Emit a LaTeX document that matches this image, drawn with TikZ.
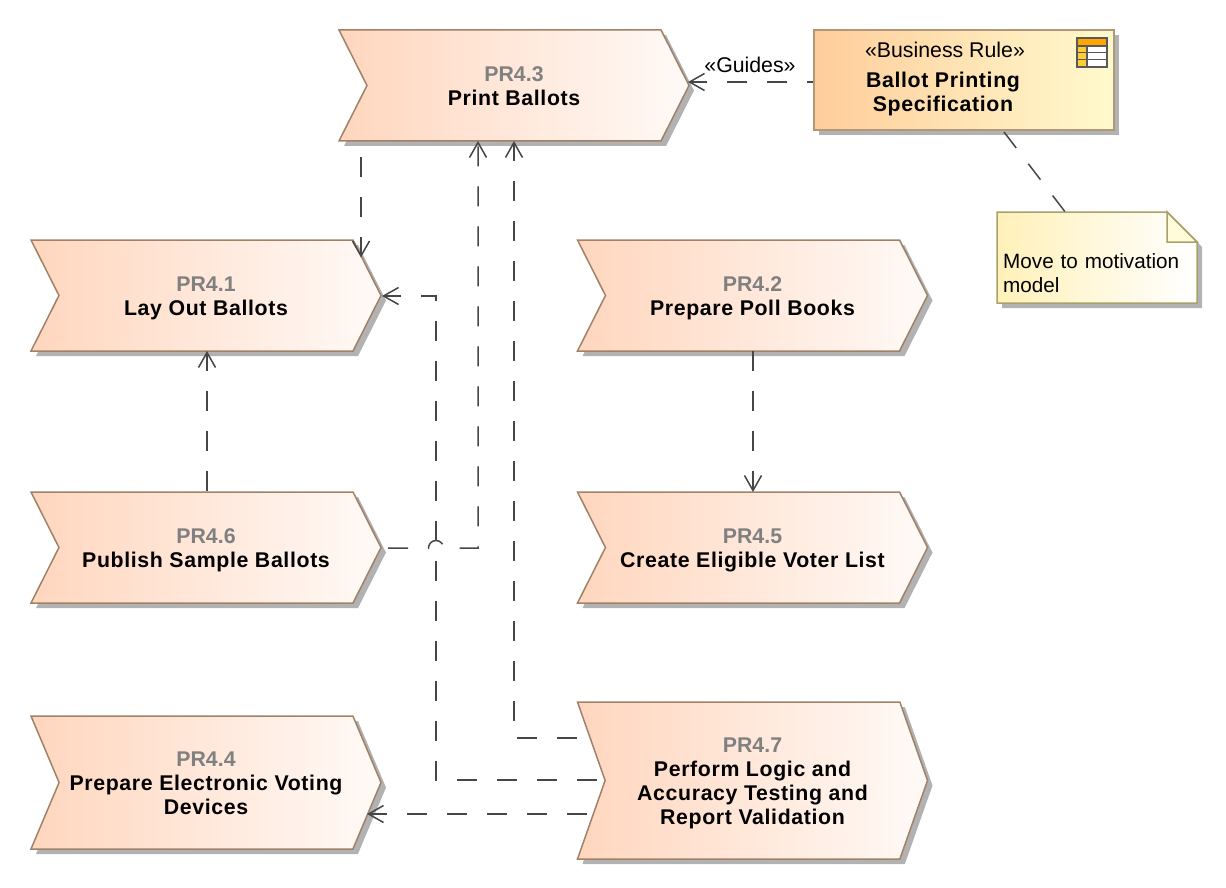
\documentclass[tikz,border=0pt]{standalone}
\usepackage{fontspec}
\setmainfont{Liberation Sans}
\newfontfamily\spacedfont[LetterSpace=3]{Liberation Sans}
\usetikzlibrary{shapes.symbols,shadows,arrows.meta}
\definecolor{chevedge}{RGB}{160,130,105}
\definecolor{chevleft}{RGB}{255,214,190}
\definecolor{chevright}{RGB}{255,250,247}
\definecolor{ruleedge}{RGB}{178,152,120}
\definecolor{ruleleft}{RGB}{255,205,155}
\definecolor{ruleright}{RGB}{255,250,205}
\definecolor{noteedge}{RGB}{170,160,105}
\definecolor{noteleft}{RGB}{255,241,185}
\definecolor{flowline}{RGB}{70,70,70}
\definecolor{idgray}{RGB}{128,128,128}
\tikzset{
  chevron/.style={signal,signal from=west,signal to=east,draw=chevedge,line width=1.5pt,
    left color=chevleft,right color=chevright,inner sep=0pt,align=center,
    minimum width=350pt,drop shadow={shadow xshift=5pt,shadow yshift=-5pt,fill=black!30,opacity=1},
    font=\spacedfont\fontsize{21.3}{24}\selectfont\bfseries},
  flow/.style={draw=flowline,line width=1.5pt,dash pattern=on 20pt off 20pt,line join=miter},
  openhead/.style={-{Straight Barb[length=15pt,width=17pt,line width=1.5pt]}},
  lbl/.style={font=\fontsize{21.3}{24}\selectfont,inner sep=0pt},
  notelbl/.style={font=\fontsize{20.7}{24}\selectfont,inner sep=0pt},
  boldlbl/.style={font=\spacedfont\fontsize{21.3}{24}\selectfont\bfseries,inner sep=0pt,align=center},
}
\newcommand{\prtext}[2]{\rule{0pt}{19.8pt}{\normalfont\fontsize{21.3}{24}\selectfont\bfseries\color{idgray}#1}\\#2\rule[-4.5pt]{0pt}{4.5pt}}
\begin{document}
\begin{tikzpicture}[x=1pt,y=-1pt]
\useasboundingbox (0,0) rectangle (1226,888);
% process steps
\node [chevron,minimum height=111pt,signal pointer angle=126.5] (pr43) at (514,85.5) {\prtext{PR4.3}{Print Ballots}};
\node [chevron,minimum height=111pt,signal pointer angle=126.5] (pr41) at (206,295.5) {\prtext{PR4.1}{Lay Out Ballots}};
\node [chevron,minimum height=111pt,signal pointer angle=126.5] (pr42) at (752.5,295.5) {\prtext{PR4.2}{Prepare Poll Books}};
\node [chevron,minimum height=111pt,signal pointer angle=126.5] (pr46) at (206,547.5) {\prtext{PR4.6}{Publish Sample Ballots}};
\node [chevron,minimum height=111pt,signal pointer angle=126.5] (pr45) at (752.5,547.5) {\prtext{PR4.5}{Create Eligible Voter List}};
\node [chevron,minimum height=133pt,signal pointer angle=134.2] (pr44) at (206,782.5) {\prtext{PR4.4}{Prepare Electronic Voting\\Devices}};
\node [chevron,minimum height=157pt,signal pointer angle=141.2] (pr47) at (752.5,780.5) {\prtext{PR4.7}{Perform Logic and\\Accuracy Testing and\\Report Validation}};
% business rule
\node [draw=ruleedge,line width=1.5pt,left color=ruleleft,right color=ruleright,
  minimum width=300pt,minimum height=100pt,inner sep=0pt,
  drop shadow={shadow xshift=5pt,shadow yshift=-5pt,fill=black!30,opacity=1}] (rule) at (964,80) {};
\node [lbl] (ruletype) at (945,50) {«Business Rule»};
\node [boldlbl] (rulename) at (943,94) {Ballot Printing\\Specification};
% table icon
\fill [orange!70!yellow] (1077,38) rectangle (1107,46);
\fill [orange!50!yellow!80!white] (1077,46) rectangle (1087,67);
\fill [white] (1087,46) rectangle (1107,67);
\draw [black!65,line width=1.3pt] (1077,38) rectangle (1107,67);
\draw [black!65,line width=1.3pt] (1077,46) -- (1107,46);
\draw [black!65,line width=1.3pt] (1077,52.5) -- (1107,52.5);
\draw [black!65,line width=1.3pt] (1077,59.5) -- (1107,59.5);
\draw [black!65,line width=1.3pt] (1087,46) -- (1087,67);
% note
\fill [black!30] (1002,217) -- (1172,217) -- (1202,247) -- (1202,308) -- (1002,308) -- cycle;
\draw [noteedge,line width=1.5pt,left color=noteleft,right color=white]
  (997,212) -- (1167,212) -- (1197,242) -- (1197,303) -- (997,303) -- cycle;
\draw [noteedge,line width=1.5pt,fill=yellow!15!white] (1167,212) -- (1167,242) -- (1197,242) -- cycle;
\node [notelbl,align=left,text width=200pt,anchor=west] (note) at (1003,273) {Move to motivation\\model};
% flows
\draw [flow,openhead,dash phase=24pt] ([shift={(-153,55.5)}]pr43.center) -- ([shift={(155,-38)}]pr41.center);
\draw [flow,openhead] ([shift={(1,-56.5)}]pr46.center) -- ([shift={(1,55.5)}]pr41.center);
\draw [flow,openhead] ([shift={(0.5,55.5)}]pr42.center) -- ([shift={(0.5,-55.5)}]pr45.center);
\draw [flow,openhead,dash phase=34pt] ([shift={(176,0.5)}]pr46.center) -- (428.5,548)
  arc[start angle=180,end angle=360,radius=7.5] -- (478,548) -- ([shift={(-36,55.5)}]pr43.center);
\draw [flow,openhead,dash phase=27pt] ([shift={(-162.5,-42.5)}]pr47.center) -- (514,738) -- ([shift={(0,55.5)}]pr43.center);
\draw [flow,openhead,dash phase=32pt] ([shift={(-147.5,-0.5)}]pr47.center) -- (436,780) -- (436,296) -- ([shift={(176,0.5)}]pr41.center);
\draw [flow,openhead,dash phase=34pt] ([shift={(-159.5,33.5)}]pr47.center) -- ([shift={(161,31.5)}]pr44.center);
\draw [flow,openhead,dash phase=14pt] ([yshift=-2pt]rule.west) -- ([shift={(174,-3.5)}]pr43.center);
\draw [flow] ([shift={(40,52)}]rule.center) -- ([shift={(-38,-61)}]note.center);
\node [lbl] (guides) at (750,65) {«Guides»};
\end{tikzpicture}
\end{document}
